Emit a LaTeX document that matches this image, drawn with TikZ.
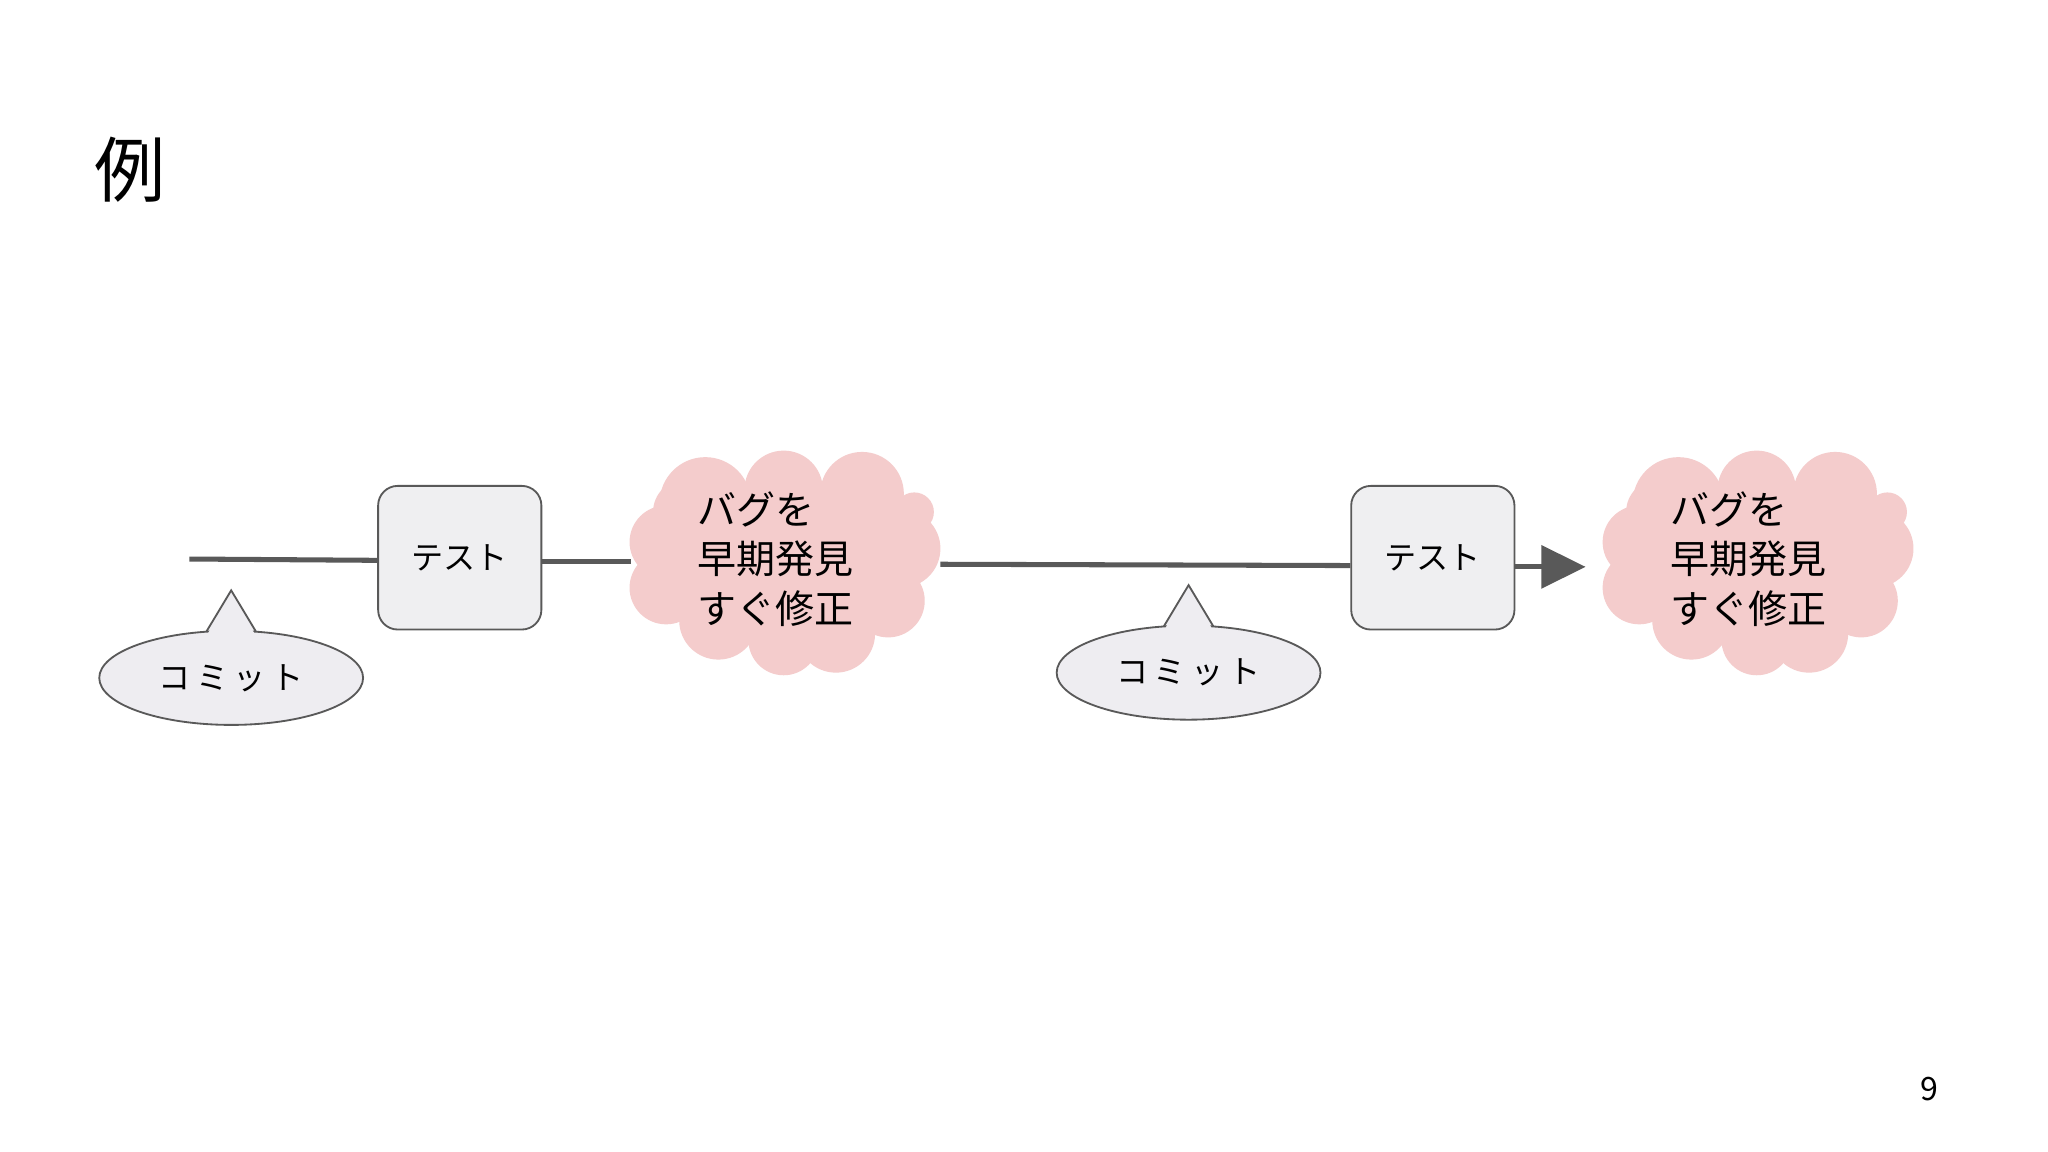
\documentclass[tikz,border=0pt]{standalone}
\usepackage{fontspec}
\setmainfont{Noto Sans CJK JP}
\usetikzlibrary{arrows.meta}
\definecolor{ln}{HTML}{595959}
\definecolor{boxf}{HTML}{EFEFF1}
\definecolor{cloudf}{HTML}{F4CCCC}
\definecolor{ellf}{HTML}{EEEDF1}
\tikzset{
 testbox/.style={draw=ln,fill=boxf,rounded corners=0.3cm,minimum width=2.5cm,minimum height=2.2cm,font=\fontsize{14}{16}\selectfont,line width=0.8pt},
 cloudarea/.style={minimum width=4.8cm,minimum height=3.3cm,inner sep=0pt},
 cloudtxt/.style={align=left,font=\fontsize{17}{21.5}\selectfont},
 conn/.style={draw=ln,line width=2.2pt},
 callout/.style={draw=ln,fill=ellf,ellipse,line width=0.8pt},
}
\newcommand{\mycloud}[3]{%
 \begin{scope}[shift={(#1,#2)}]
 \fill[cloudf] (0,0) ellipse [x radius=90, y radius=60];
 \foreach \x/\y/\r in {-60/-47/35,0/-57/30,60/-54/32,90/-12/30,80/28/28,40/53/30,0/58/27,-50/43/30,-90/18/28,-90/-17/28,-75/-40/25,100/-40/15}
   \fill[cloudf] (\x,\y) circle [radius=\r];
 \end{scope}}
\newcommand{\mycallout}[3]{%
 \draw[line width=0.8pt,draw=ln,fill=ellf] (#1-19,#2-35.4) -- (#1,#2-67) -- (#1+19,#2-35.4);
 \draw[line width=0.8pt,draw=ln,fill=ellf] (#1,#2) ellipse [x radius=101, y radius=36];
 \fill[ellf] (#1-17.5,#2-34.6) -- (#1,#2-64) -- (#1+17.5,#2-34.6) -- (#1+17.5,#2-30) -- (#1-17.5,#2-30) -- cycle;
 \node (#3) at (#1,#2) {\fontsize{14}{16}\selectfont コ\,ミ\,ッ\,ト};}
\begin{document}
\begin{tikzpicture}[x=0.02cm,y=-0.02cm]
\useasboundingbox (0,0) rectangle (1568,882);
\fill[white] (0,0) rectangle (1568,882);
\node[anchor=west,font=\fontsize{31}{36}\selectfont] (title) at (66,130) {例};
\node[font=\fontsize{14}{16}\selectfont] (pg) at (1477,834) {9};
\mycloud{600}{432}{}
\mycloud{1345}{432}{}
\node[cloudarea] (c1) at (600,432) {};
\node[cloudarea] (c2) at (1345,432) {};
\node[cloudtxt,anchor=west] (t1) at (528,428) {バグを\\早期発見\\すぐ修正};
\node[cloudtxt,anchor=west] (t2) at (1273,428) {バグを\\早期発見\\すぐ修正};
\node[testbox] (b1) at (352,427) {テスト};
\node[testbox] (b2) at (1097,427) {テスト};
\coordinate (s) at (145,428);
\path[conn] (s) -- (b1.west |- 0,429);
\path[conn] (b1.east |- 0,430) -- (483,430);
\path[conn] (720,432) -- (b2.west |- 0,433);
\coordinate (ae) at (1214,434);
\path[conn,-{Triangle[length=0.68cm,width=0.65cm]}] (b2.east |- 0,434) -- (ae);
\mycallout{177}{519}{m1}
\mycallout{910}{515}{m2}
\end{tikzpicture}
\end{document}
